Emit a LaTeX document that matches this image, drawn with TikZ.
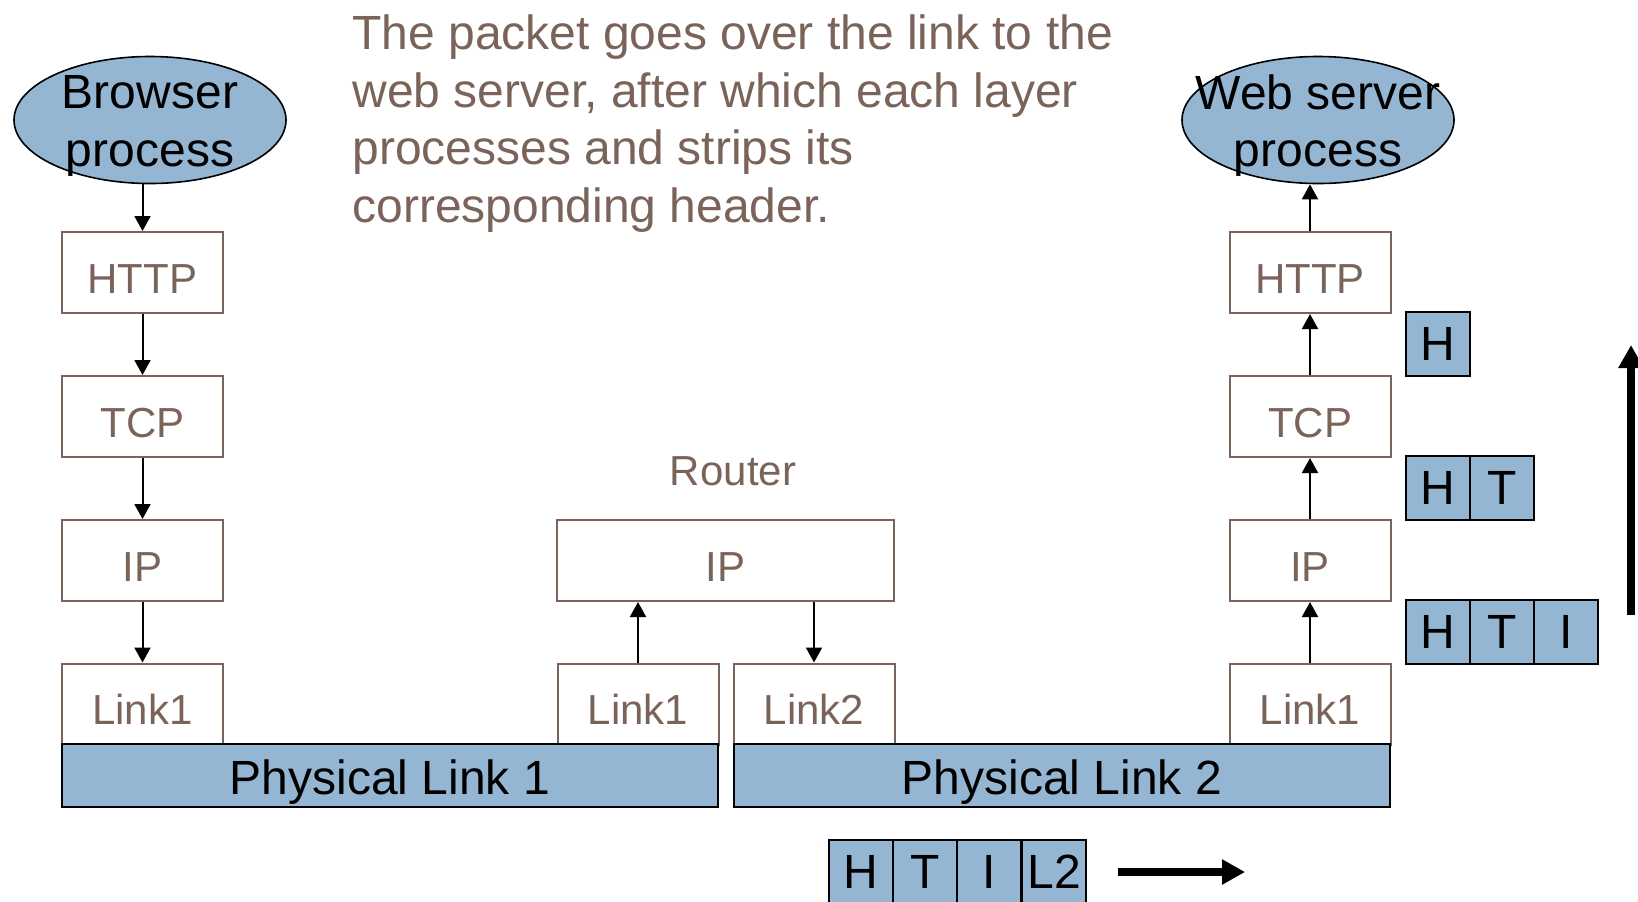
\documentclass[tikz,border=0pt]{standalone}
\usepackage{fontspec}
\setmainfont{Liberation Sans}
\usetikzlibrary{arrows.meta,shapes.geometric}
\definecolor{layerbrown}{RGB}{122,99,89}
\definecolor{pktblue}{RGB}{149,182,211}
\begin{document}
\begin{tikzpicture}[x=0.5pt,y=-0.5pt,
  layerbox/.style={draw=layerbrown, line width=1pt, fill=white,
    minimum width=80.5pt, minimum height=40.5pt, inner sep=0pt,
    text=layerbrown, font=\fontsize{21pt}{25pt}\selectfont,
    text height=20.5pt, text depth=0pt},
  physbox/.style={draw=black, line width=1.2pt, fill=pktblue,
    minimum width=328pt, minimum height=31.5pt, inner sep=0pt,
    font=\fontsize{24pt}{28.75pt}\selectfont, text height=18.5pt, text depth=0pt},
  hdrcell/.style={draw=black, line width=1pt, fill=pktblue,
    minimum size=32pt, inner sep=0pt, font=\fontsize{24pt}{28.75pt}\selectfont},
  proc/.style={ellipse, draw=black, line width=0.8pt, fill=pktblue,
    minimum width=136pt, minimum height=63.5pt, inner sep=0pt},
  proclabel/.style={align=center, inner sep=0pt,
    font=\fontsize{24pt}{28.75pt}\selectfont},
  note/.style={align=left, inner sep=0pt, text=layerbrown,
    font=\fontsize{24pt}{28.75pt}\selectfont},
  arr/.style={-{Triangle[length=7.5pt,width=8pt]}, line width=1pt},
  bigarr/.style={-{Triangle[length=11.5pt,width=12pt]}, line width=4pt}
]
\useasboundingbox (0,0) rectangle (1638,901);
\clip (0,0) rectangle (1638,901);

% explanatory text
\node[note, anchor=north west] (note) at (352,14.6)
  {The packet goes over the link to the\\web server, after which each layer\\processes and strips its\\corresponding header.};

% end-point processes
\node[proc] (browser) at (150,120) {};
\node[proclabel] (browserlbl) at (150,120) [yshift=-2.9pt] {Browser\\process};
\node[proc] (web) at (1318,120) {};
\node[proclabel] (weblbl) at (1318,120) [yshift=-2.9pt] {Web server\\process};

% client stack
\node[layerbox] (lhttp) at (142.5,272.5) {HTTP};
\node[layerbox] (ltcp)  at (142.5,416.5) {TCP};
\node[layerbox] (lip)   at (142.5,560.5) {IP};
\node[layerbox] (llink) at (142.5,704)   {Link1};

% router
\node[layerbrown, font=\fontsize{21pt}{25pt}\selectfont, anchor=base, inner sep=0pt]
  (router) at (733,485) {Router};
\node[layerbox, minimum width=168.5pt] (rip) at (725.5,560.5) {IP};
\node[layerbox] (rlink1) at (638,704) {Link1};
\node[layerbox] (rlink2) at (814,704) {Link2};

% server stack
\node[layerbox] (shttp) at (1310,272.5) {HTTP};
\node[layerbox] (stcp)  at (1310,416.5) {TCP};
\node[layerbox] (sip)   at (1310,560.5) {IP};
\node[layerbox] (slink) at (1310,704)   {Link1};

% physical links
\node[physbox] (phys1) at (390,775.5)  {Physical Link 1};
\node[physbox] (phys2) at (1062,775.5) {Physical Link 2};

% layer arrows
\draw[arr] (browser.south -| lhttp.north) -- (lhttp.north);
\draw[arr] (lhttp.south) -- (ltcp.north);
\draw[arr] (ltcp.south) -- (lip.north);
\draw[arr] (lip.south) -- (llink.north);
\draw[arr] (rlink1.north) -- (rlink1.north |- rip.south);
\draw[arr] (rip.south -| rlink2.north) -- (rlink2.north);
\draw[arr] (slink.north) -- (sip.south);
\draw[arr] (sip.north) -- (stcp.south);
\draw[arr] (stcp.north) -- (shttp.south);
\draw[arr] (shttp.north) -- (web.south -| shttp.north);

% headers left on the packet as it climbs the server stack
\node[hdrcell] (h1) at (1438,344) {H};
\node[hdrcell] (h2) at (1438,488) {H};
\node[hdrcell] (t2) at (1502,488) {T};
\node[hdrcell] (h3) at (1438,632) {H};
\node[hdrcell] (t3) at (1502,632) {T};
\node[hdrcell] (i3) at (1566,632) {I};

% packet on physical link 2
\node[hdrcell] (ph) at (861,872)  {H};
\node[hdrcell] (pt) at (925,872)  {T};
\node[hdrcell] (pi) at (989,872)  {I};
\node[hdrcell] (pl) at (1054,872) {L2};

% direction arrows
\coordinate (upfoot) at (1631,615);
\coordinate (uptip)  at (1631,345);
\draw[bigarr] (upfoot) -- (uptip);
\coordinate (rtfoot) at (1118,872);
\coordinate (rttip)  at (1245,872);
\draw[bigarr] (rtfoot) -- (rttip);
\end{tikzpicture}
\end{document}
